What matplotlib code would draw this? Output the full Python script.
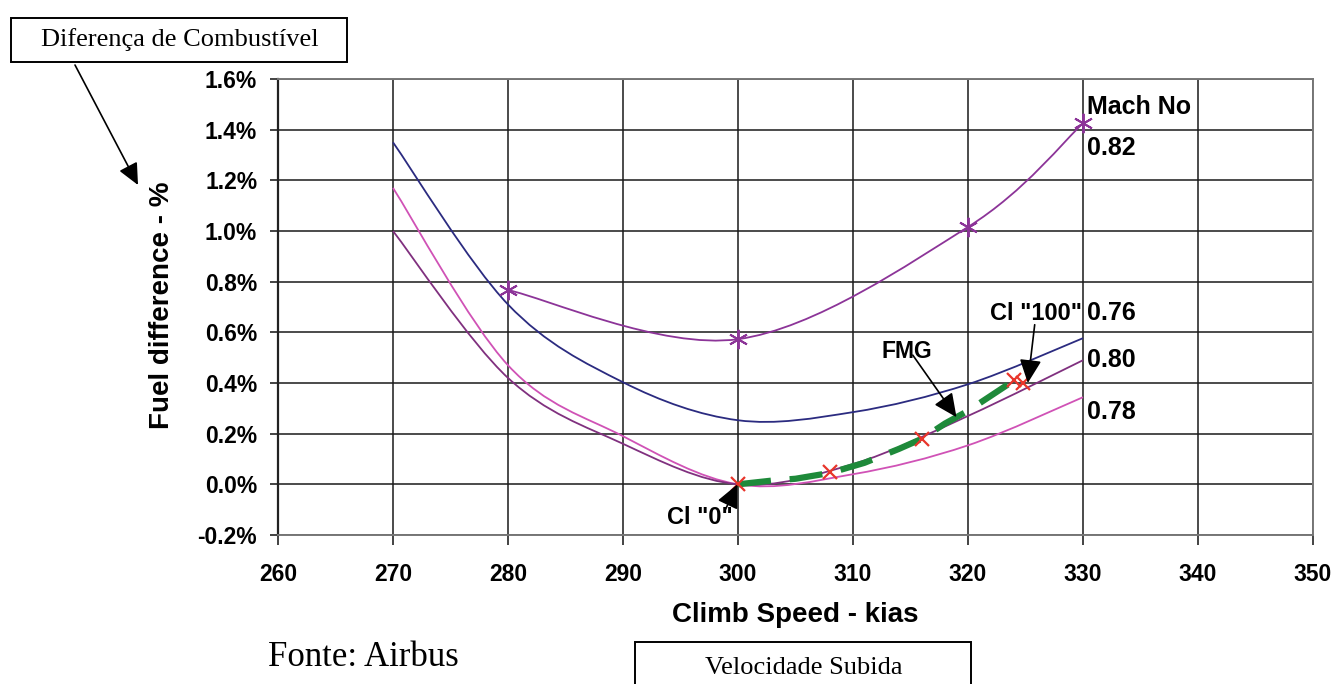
import numpy as np
import matplotlib
matplotlib.use("Agg")
import matplotlib.pyplot as plt
from matplotlib.path import Path
from matplotlib.patches import PathPatch, Rectangle, FancyArrowPatch

# values (fuel difference in %)
speed = [270, 280, 290, 300, 310, 320, 330]
mach_076 = [1.35, 0.71, 0.403, 0.253, 0.285, 0.395, 0.577]
mach_078 = [1.17, 0.47, 0.19, 0.0, 0.04, 0.154, 0.344]
mach_080 = [1.00, 0.42, 0.16, 0.0, 0.08, 0.27, 0.49]

speed_082 = [280, 300, 320, 330]
mach_082 = [0.767, 0.573, 1.016, 1.425]

fmg_speed = [300, 303, 305, 308, 311, 314, 316, 318, 320, 322, 324]
fmg_fuel = [0.0, 0.015, 0.022, 0.045, 0.085, 0.14, 0.18, 0.24, 0.29, 0.35, 0.41]

ci_speed = [300, 308, 316, 324, 324.8]
ci_fuel = [0.0, 0.047, 0.18, 0.41, 0.40]

mach_labels = ["Mach No", "0.82", "0.76", "0.80", "0.78"]
mach_label_y = [1.49, 1.328, 0.676, 0.49, 0.285]

x_ticks = list(range(260, 351, 10))
y_ticks = [-0.2, 0.0, 0.2, 0.4, 0.6, 0.8, 1.0, 1.2, 1.4, 1.6]

plt.rcParams['font.family'] = ['Liberation Sans', 'DejaVu Sans']


def smooth_path(xs, ys):
    # Excel-like smoothed line: Catmull-Rom through the points as Bezier segments
    pts = np.column_stack([xs, ys]).astype(float)
    n = len(pts)
    verts = [pts[0]]
    codes = [Path.MOVETO]
    for i in range(n - 1):
        p0 = pts[i - 1] if i > 0 else pts[i]
        p1 = pts[i]
        p2 = pts[i + 1]
        p3 = pts[i + 2] if i + 2 < n else pts[i + 1]
        verts += [p1 + (p2 - p0) / 6, p2 - (p3 - p1) / 6, p2]
        codes += [Path.CURVE4] * 3
    return Path(verts, codes)


fig = plt.figure(figsize=(13.35, 6.84), dpi=100)
ax = fig.add_axes([278 / 1335, 1 - 535 / 684, (1313 - 278) / 1335, (535 - 79) / 684])

ax.set_xlim(260, 350)
ax.set_ylim(-0.2, 1.6)
ax.set_xticks(x_ticks)
ax.set_yticks(y_ticks)
ax.set_xticklabels([str(t) for t in x_ticks], fontsize=16.5, fontweight='bold')
ax.set_yticklabels(["%.1f%%" % t for t in y_ticks], fontsize=16.5, fontweight='bold')
ax.tick_params(axis='y', length=6, width=1.2, pad=9, color='#222222')
ax.tick_params(axis='x', length=7, width=1.2, pad=13, color='#222222')
ax.grid(True, color='#1a1a1a', lw=1.1)
ax.set_axisbelow(True)
for side in ['top', 'right', 'bottom']:
    ax.spines[side].set_color('#777777')
    ax.spines[side].set_linewidth(1.4)
ax.spines['left'].set_color('#222222')
ax.spines['left'].set_linewidth(1.6)

curves = [
    (speed, mach_076, '#2b2b80'),
    (speed, mach_078, '#d052b6'),
    (speed, mach_080, '#80307f'),
    (speed_082, mach_082, '#8c3498'),
]
for xs, ys, col in curves:
    ax.add_patch(PathPatch(smooth_path(xs, ys), fill=False, edgecolor=col,
                           lw=1.3, zorder=3))

ax.plot(speed_082, mach_082, ls='none', marker=(6, 2, 0), ms=14,
        mec='#8c3498', mew=1.4, zorder=4)

ln, = ax.plot(fmg_speed, fmg_fuel, color='#1e8a3a', lw=4.5, zorder=5,
              solid_capstyle='butt')
ln.set_dashes((5.3, 3.0))
ax.plot(ci_speed, ci_fuel, ls='none', marker='x', ms=10, mec='#e8352b',
        mew=1.6, zorder=6)

for lab, yv in zip(mach_labels, mach_label_y):
    ax.text(330.35, yv, lab, fontsize=18, fontweight='bold', ha='left',
            va='center', zorder=7)

arrow = dict(arrowstyle='-|>,head_length=0.6,head_width=0.28', color='black',
             lw=1.2, mutation_scale=24, shrinkA=0, shrinkB=0)
ax.text(296.7, -0.13, 'Cl "0"', fontsize=17, fontweight='bold', ha='center', va='center')
ax.annotate('', xy=(299.95, 0.0), xytext=(298.9, -0.10), arrowprops=arrow, zorder=7)
ax.text(314.7, 0.525, 'FMG', fontsize=16.5, fontweight='bold', ha='center', va='center')
ax.annotate('', xy=(319.0, 0.265), xytext=(315.2, 0.51), arrowprops=arrow, zorder=7)
ax.text(325.95, 0.676, 'Cl "100"', fontsize=17, fontweight='bold', ha='center', va='center')
ax.annotate('', xy=(325.2, 0.40), xytext=(325.8, 0.63), arrowprops=arrow, zorder=7)

fig.text(162 / 1335, 1 - 305 / 684, 'Fuel difference - %', rotation=90, fontsize=20,
         fontweight='bold', ha='center', va='center')
fig.text(795 / 1335, 1 - 615 / 684, 'Climb Speed - kias', fontsize=20,
         fontweight='bold', ha='center', va='center')

# outside annotations (Portuguese)
serif = ['Liberation Serif', 'DejaVu Serif']
fig.patches.append(Rectangle((11 / 1335, 1 - 62 / 684), 336 / 1335, 44 / 684,
                             transform=fig.transFigure, fill=False, ec='black', lw=1.4))
fig.text(180 / 1335, 1 - 40 / 684, 'Diferença de Combustível', family=serif,
         fontsize=19, ha='center', va='center')
fig.patches.append(Rectangle((635 / 1335, 1 - 710 / 684), 336 / 1335, 68 / 684,
                             transform=fig.transFigure, fill=False, ec='black', lw=1.4))
fig.text(804 / 1335, 1 - 668 / 684, 'Velocidade Subida', family=serif,
         fontsize=19, ha='center', va='center')
fig.text(268 / 1335, 1 - 658 / 684, 'Fonte: Airbus', family=serif,
         fontsize=25, ha='left', va='center')
fig.add_artist(FancyArrowPatch(
    (75 / 1335, 1 - 65 / 684), (138 / 1335, 1 - 185 / 684),
    transform=fig.transFigure, arrowstyle='-|>,head_length=0.6,head_width=0.28',
    mutation_scale=22, color='black', lw=1.2, shrinkA=0, shrinkB=0))

fig.savefig('out.png', dpi=100)
